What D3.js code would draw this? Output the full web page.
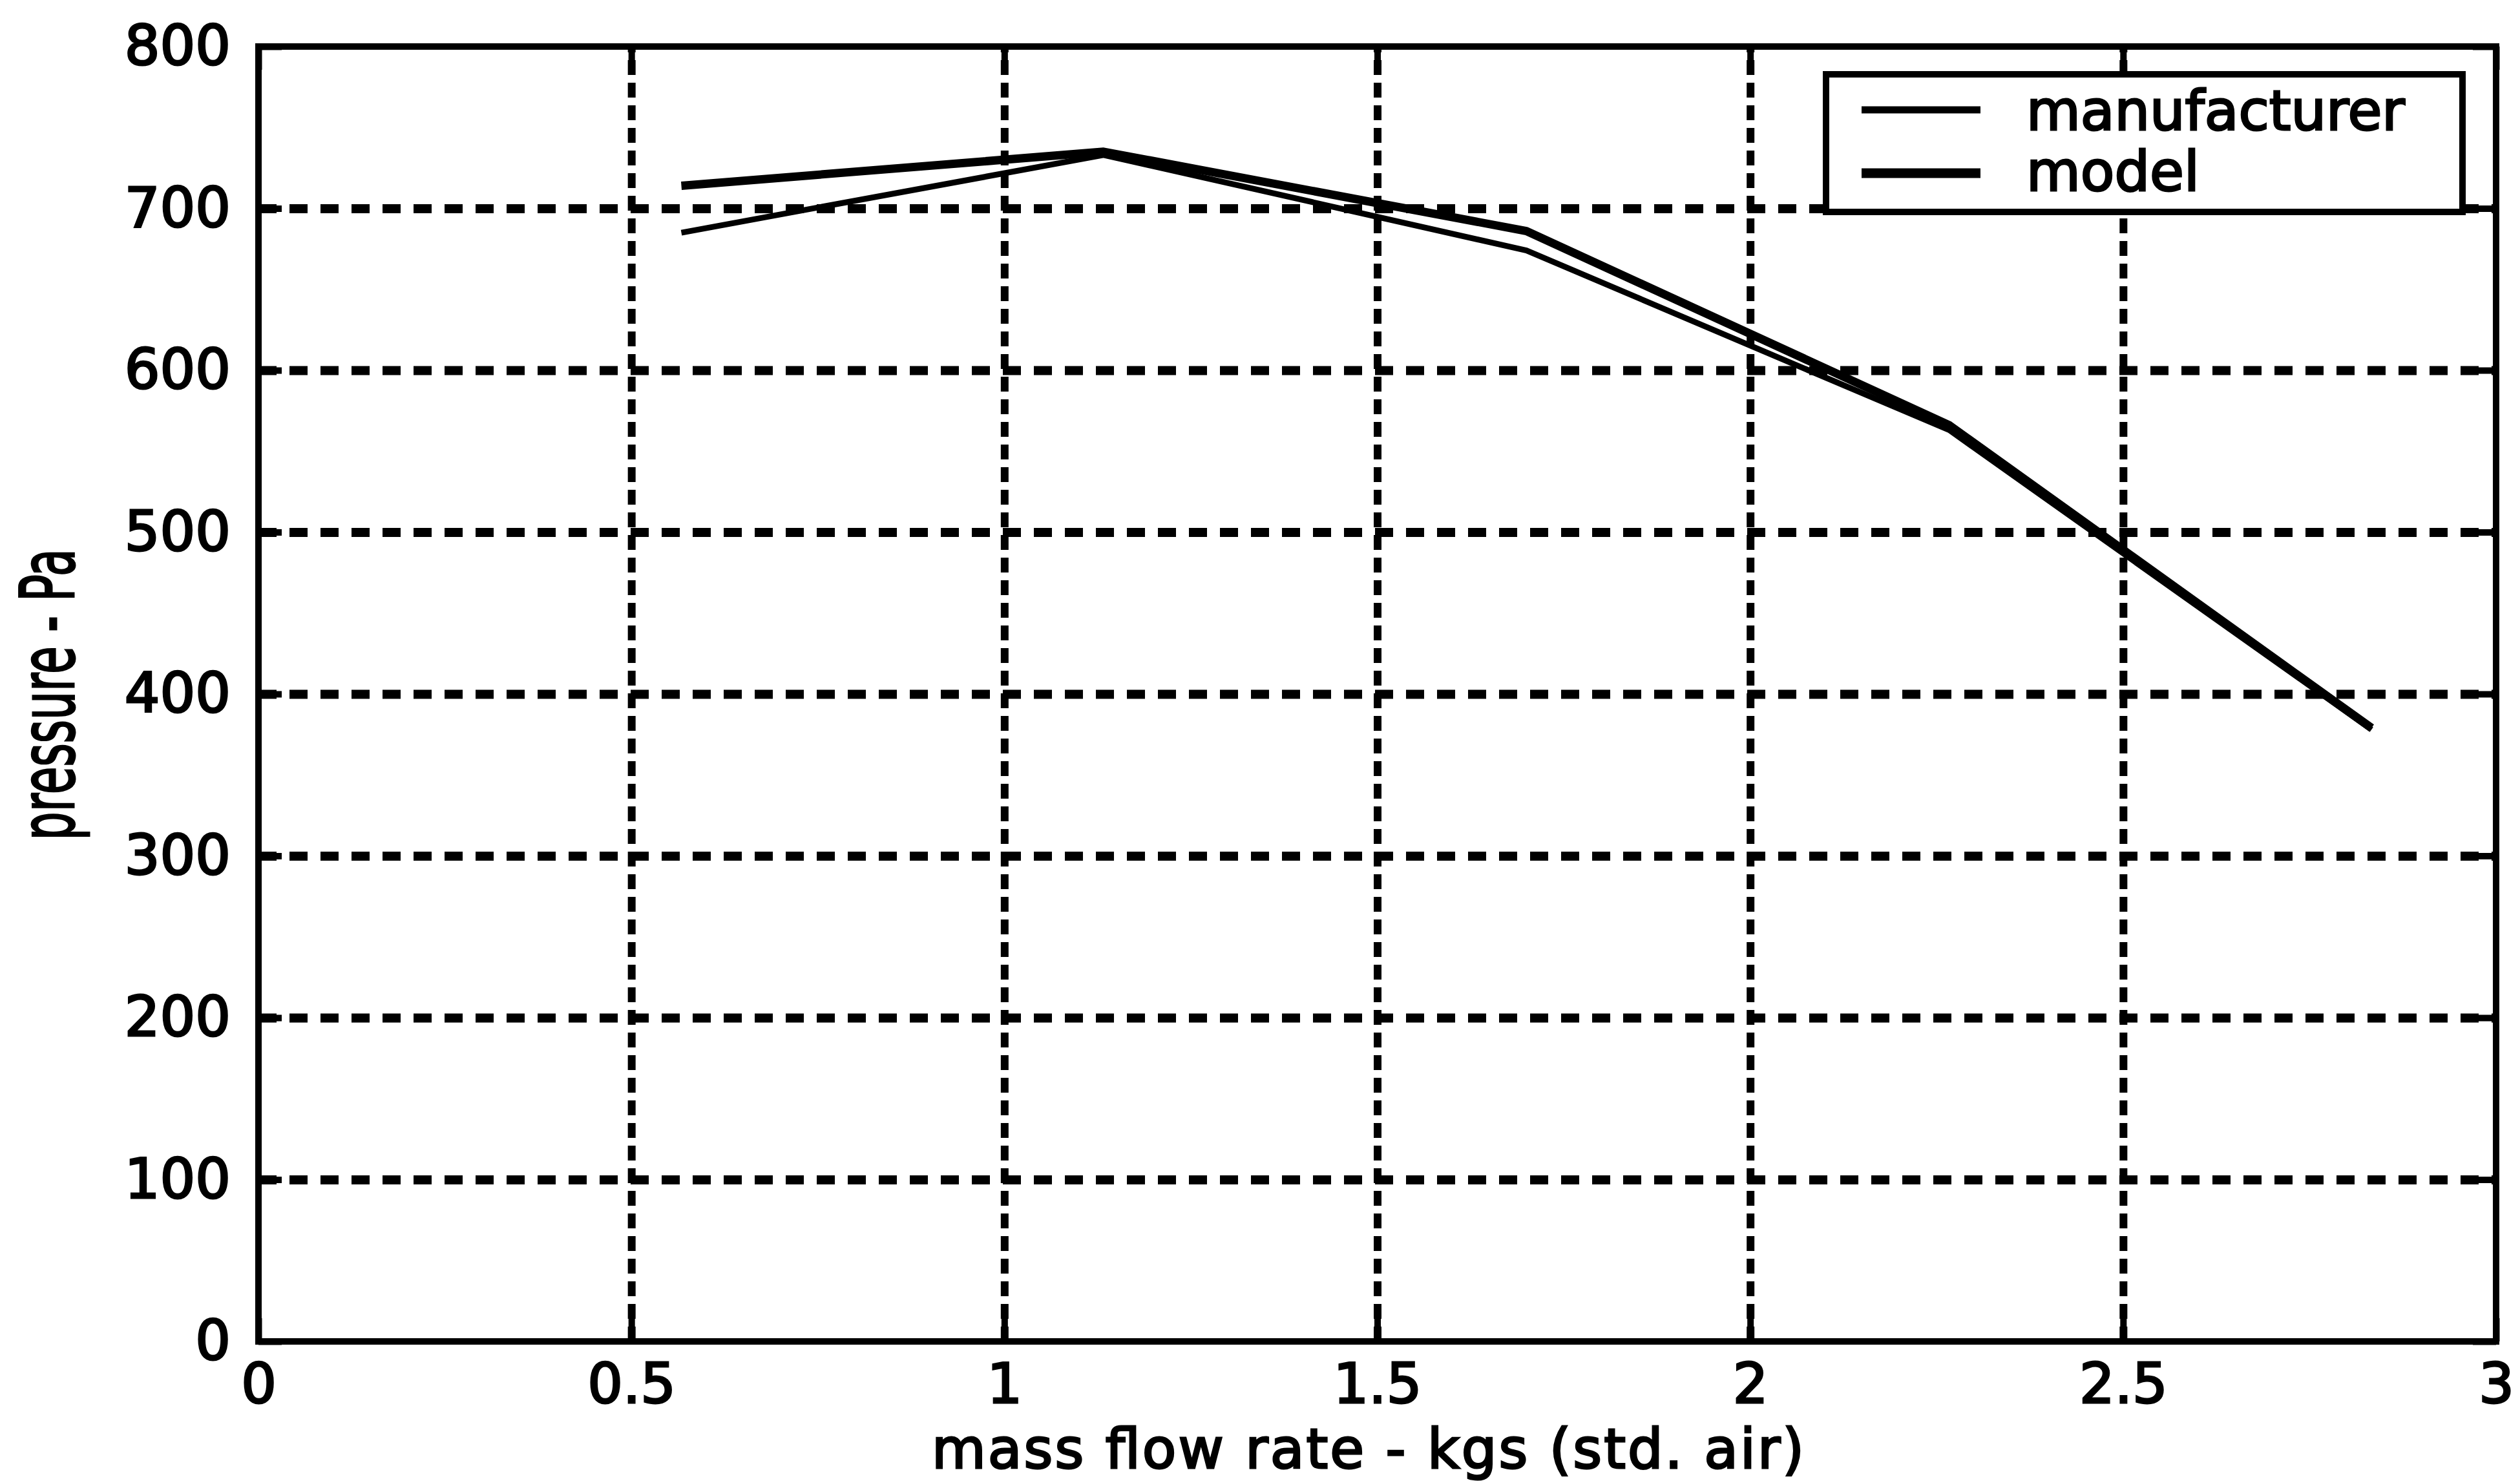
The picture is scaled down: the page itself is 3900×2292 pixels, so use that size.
<!DOCTYPE html>
<html>
<head>
<meta charset="utf-8">
<script src="https://cdn.jsdelivr.net/npm/d3@7"></script>
<style>
  html, body { margin: 0; padding: 0; background: #fff; }
  svg { display: block; }
</style>
</head>
<body>
<script>
// ---- data ----
const xTickValues = [0, 0.5, 1, 1.5, 2, 2.5, 3];
const yTickValues = [0, 100, 200, 300, 400, 500, 600, 700, 800];
const massFlow = [0.567, 1.133, 1.7, 2.267, 2.833];
const manufacturerPressure = [685, 733, 674, 563, 378];
const modelPressure = [714, 735, 686, 566, 379];
const seriesNames = ["manufacturer", "model"];
const xTitle = "mass flow rate - kgs (std. air)";
const yTitle = "pressure - Pa";

// ---- layout ----
const W = 3900, H = 2292;
const L = 400, R = 3863, T = 72, B = 2076;
const FONT = "DejaVu Sans";
const TEXT_STROKE = 3;

const svg = d3.select("body").append("svg").attr("width", W).attr("height", H);
svg.append("rect").attr("width", W).attr("height", H).attr("fill", "#fff");

const x = d3.scaleLinear().domain([0, 3]).range([L, R]);
const y = d3.scaleLinear().domain([0, 800]).range([B, T]);

// ---- grid ----
const gridX = svg.append("g").attr("transform", `translate(0,${B})`)
  .call(d3.axisBottom(x).tickValues(xTickValues.slice(1, -1)).tickSize(-(B - T)).tickFormat(""));
gridX.select(".domain").remove();
gridX.selectAll("line").attr("stroke", "#000").attr("stroke-width", 12).attr("stroke-dasharray", "23 12");

const gridY = svg.append("g").attr("transform", `translate(${L},0)`)
  .call(d3.axisLeft(y).tickValues(yTickValues.slice(1, -1)).tickSize(-(R - L)).tickFormat(""));
gridY.select(".domain").remove();
gridY.selectAll("line").attr("stroke", "#000").attr("stroke-width", 14).attr("stroke-dasharray", "28 20");

// ---- inward tick marks on all four sides ----
function ticks(axis, tr) {
  const g = svg.append("g").attr("transform", tr).call(axis.tickSize(-36).tickFormat(""));
  g.select(".domain").remove();
  g.selectAll("line").attr("stroke", "#000").attr("stroke-width", 10);
}
ticks(d3.axisBottom(x).tickValues(xTickValues), `translate(0,${B})`);
ticks(d3.axisTop(x).tickValues(xTickValues), `translate(0,${T})`);
ticks(d3.axisLeft(y).tickValues(yTickValues), `translate(${L},0)`);
ticks(d3.axisRight(y).tickValues(yTickValues), `translate(${R},0)`);

// ---- frame ----
svg.append("rect").attr("x", L).attr("y", T).attr("width", R - L).attr("height", B - T)
  .attr("fill", "none").attr("stroke", "#000").attr("stroke-width", 10);

// ---- tick labels ----
const xl = svg.append("g").attr("transform", `translate(0,${B})`)
  .call(d3.axisBottom(x).tickValues(xTickValues).tickSize(0).tickPadding(34).tickFormat(d => String(d)));
xl.select(".domain").remove();
xl.attr("font-family", FONT).attr("font-size", 86);
xl.selectAll("text").attr("fill", "#000").attr("stroke", "#000").attr("stroke-width", TEXT_STROKE);

const yl = svg.append("g").attr("transform", `translate(${L},0)`)
  .call(d3.axisLeft(y).tickValues(yTickValues).tickSize(0).tickPadding(43).tickFormat(d => String(d)));
yl.select(".domain").remove();
yl.attr("font-family", FONT).attr("font-size", 86);
yl.selectAll("text").attr("fill", "#000").attr("stroke", "#000").attr("stroke-width", TEXT_STROKE);

// ---- axis titles ----
svg.append("text").attr("x", 2117).attr("y", 2272).attr("text-anchor", "middle")
  .attr("font-family", FONT).attr("font-size", 86).attr("fill", "#000")
  .attr("stroke", "#000").attr("stroke-width", TEXT_STROKE)
  .attr("textLength", 1350).attr("lengthAdjust", "spacing")
  .text(xTitle);

svg.append("text").attr("transform", "translate(114,1075) rotate(-90)")
  .attr("text-anchor", "middle")
  .attr("font-family", FONT).attr("font-size", 115).attr("fill", "#000")
  .attr("stroke", "#000").attr("stroke-width", TEXT_STROKE)
  .attr("textLength", 451).attr("lengthAdjust", "spacingAndGlyphs")
  .text(yTitle);

// ---- series ----
const line = d3.line().x(d => x(d[0])).y(d => y(d[1]));
const manuData = massFlow.map((v, i) => [v, manufacturerPressure[i]]);
const modelData = massFlow.map((v, i) => [v, modelPressure[i]]);
const widths = { manufacturer: 9, model: 13 };

svg.append("path").datum(manuData).attr("d", line).attr("fill", "none")
  .attr("stroke", "#000").attr("stroke-width", widths.manufacturer).attr("stroke-linejoin", "round");
svg.append("path").datum(modelData).attr("d", line).attr("fill", "none")
  .attr("stroke", "#000").attr("stroke-width", widths.model).attr("stroke-linejoin", "round");

// ---- legend ----
const lg = svg.append("g");
lg.append("rect").attr("x", 2826).attr("y", 115).attr("width", 985).attr("height", 213)
  .attr("fill", "#fff").attr("stroke", "#000").attr("stroke-width", 10);
const legendRows = [
  { name: seriesNames[0], ly: 170, ty: 201 },
  { name: seriesNames[1], ly: 268, ty: 295 }
];
legendRows.forEach(r => {
  lg.append("line").attr("x1", 2881).attr("x2", 3065).attr("y1", r.ly).attr("y2", r.ly)
    .attr("stroke", "#000").attr("stroke-width", widths[r.name] + 2);
  lg.append("text").attr("x", 3136).attr("y", r.ty)
    .attr("font-family", FONT).attr("font-size", 86).attr("fill", "#000")
    .attr("stroke", "#000").attr("stroke-width", TEXT_STROKE).text(r.name);
});
</script>
</body>
</html>
